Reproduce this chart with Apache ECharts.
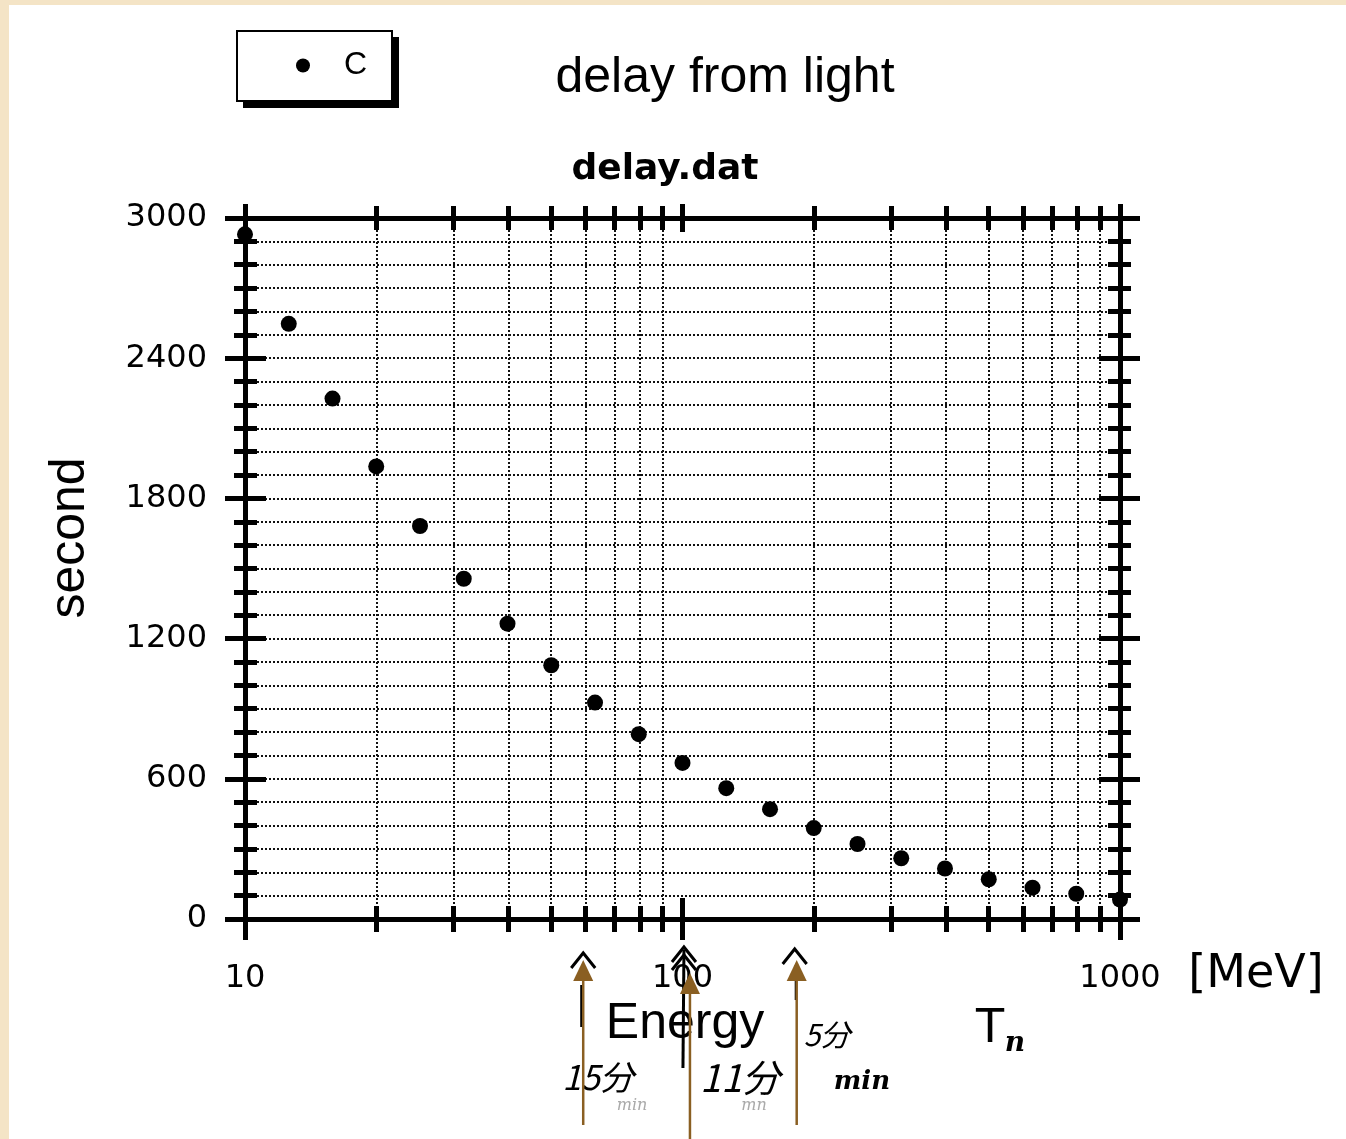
<!DOCTYPE html>
<html>
<head>
<meta charset="utf-8">
<script src="https://cdn.jsdelivr.net/npm/echarts@6/dist/echarts.min.js"></script>
<style>
html,body{margin:0;padding:0;background:#fff;}
#c{width:1346px;height:1139px;}
</style>
</head>
<body>
<div id="c"></div>
<script>
// ---- data ----
const seriesName = 'C';
const energies = [10, 12.59, 15.85, 19.95, 25.12, 31.62, 39.81, 50.12, 63.10, 79.43, 100, 125.9, 158.5, 199.5, 251.2, 316.2, 398.1, 501.2, 631.0, 794.3, 1000];
const delays   = [2930, 2547, 2227, 1937, 1682, 1456, 1264, 1086, 926, 791, 668, 560, 470, 389, 321, 260, 216, 170, 134, 108, 83];
const xLabelValues = [10, 100, 1000];
const xMinorTicks = [20, 30, 40, 50, 60, 70, 80, 90, 200, 300, 400, 500, 600, 700, 800, 900];
const xMajorTicks = [10, 100, 1000];
const yMin = 0, yMax = 3000, yLabelStep = 600, yMinorStep = 100;
const arrowEnergies = [59.3, 104, 182.4];

const chart = echarts.init(document.getElementById('c'), null, {renderer: 'canvas'});
const INK = '#000';
const labelFont = {fontFamily: 'DejaVu Sans', fontSize: 32, color: INK};
const dotted = {show: true, lineStyle: {type: 'dotted', color: '#111', width: 2}};
const noLine = {show: false, onZero: false};
const axLine = {show: true, onZero: false, lineStyle: {color: INK, width: 5}};

function xAx(pos, opts) {
  return Object.assign({
    type: 'log', logBase: 10, min: 10, max: 1000, position: pos, gridIndex: 0,
    axisLine: noLine, axisTick: {show: false}, axisLabel: {show: false},
    splitLine: {show: false}, minorTick: {show: false}, minorSplitLine: {show: false}
  }, opts);
}
function yAx(pos, opts) {
  return Object.assign({
    type: 'value', min: yMin, max: yMax, position: pos, gridIndex: 0,
    axisLine: noLine, axisTick: {show: false}, axisLabel: {show: false},
    splitLine: {show: false}
  }, opts);
}
const tick = (len, vals) => Object.assign({show: true, inside: true, length: len, lineStyle: {color: INK, width: 5}}, vals ? {customValues: vals} : {});

const option = {
  backgroundColor: '#fff',
  animation: false,
  grid: {left: 245, right: 226, top: 218, bottom: 220, containLabel: false, outerBoundsMode: 'none'},
  legend: {
    data: [seriesName], left: 296, top: 49, orient: 'horizontal',
    padding: 0, itemWidth: 72, itemHeight: 14, icon: 'circle',
    textStyle: {fontFamily: 'Liberation Sans', fontSize: 32, lineHeight: 33, color: INK}
  },
  xAxis: [
    xAx('bottom', {axisLine: axLine,
      axisLabel: {show: true, customValues: xLabelValues, margin: 44, ...labelFont,
        formatter: v => String(Math.round(v))}}),
    xAx('bottom', {offset: 13, axisTick: tick(26, xMinorTicks), splitLine: dotted}),
    xAx('bottom', {offset: 21, axisTick: tick(42, xMajorTicks)}),
    xAx('top', {axisLine: axLine}),
    xAx('top', {offset: 12, axisTick: tick(24, xMinorTicks)}),
    xAx('top', {offset: 14, axisTick: tick(28, xMajorTicks)})
  ],
  yAxis: [
    yAx('left', {interval: yLabelStep, axisLine: axLine,
      axisLabel: {show: true, margin: 38, padding: [10, 0, 0, 0], ...labelFont, formatter: v => String(v)}}),
    yAx('left', {offset: 11, interval: yMinorStep, axisTick: tick(23), splitLine: dotted}),
    yAx('left', {offset: 20, interval: yLabelStep, axisTick: tick(41)}),
    yAx('right', {interval: yLabelStep, axisLine: axLine}),
    yAx('right', {offset: 11, interval: yMinorStep, axisTick: tick(23)}),
    yAx('right', {offset: 20, interval: yLabelStep, axisTick: tick(41)})
  ],
  series: [{
    name: seriesName, type: 'scatter', xAxisIndex: 0, yAxisIndex: 0,
    symbol: 'circle', symbolSize: 16, itemStyle: {color: INK, opacity: 1}, z: 5,
    data: energies.map((e, i) => [e, delays[i]])
  }]
};
chart.setOption(option);

// ---- annotations (text + pen marks) ----
const BROWN = '#8a5f22';
const ax = arrowEnergies.map(e => chart.convertToPixel({xAxisIndex: 0}, e));
const arrowTip = [960, 973, 960];
const arrowEnd = [1125, 1139, 1125];
const g = [];
// beige scan border
g.push({type: 'rect', shape: {x: 0, y: 0, width: 9, height: 1139}, style: {fill: '#f4e4c6'}, z: 100});
g.push({type: 'rect', shape: {x: 0, y: 0, width: 1346, height: 5}, style: {fill: '#f4e4c6'}, z: 100});
// legend frame with hard drop shadow
g.push({type: 'rect', shape: {x: 243, y: 37, width: 156, height: 71}, style: {fill: INK}, z: -10});
g.push({type: 'rect', shape: {x: 237, y: 31, width: 155, height: 70}, style: {fill: '#fff', stroke: INK, lineWidth: 2}, z: -9});
// titles
g.push({type: 'text', style: {text: 'delay from light', x: 725, y: 78, font: '50px "Liberation Sans"', fill: INK, textAlign: 'center', textVerticalAlign: 'middle'}, z: 50});
g.push({type: 'text', style: {text: 'delay.dat', x: 665, y: 170, font: 'bold 36px "DejaVu Sans"', fill: INK, textAlign: 'center', textVerticalAlign: 'middle'}, z: 50});
// axis names
g.push({type: 'text', style: {text: 'Energy', x: 685, y: 1024, font: '50px "Liberation Sans"', fill: INK, textAlign: 'center', textVerticalAlign: 'middle'}, z: 50});
g.push({type: 'text', rotation: Math.PI / 2, x: 70, y: 538, style: {text: 'second', x: 0, y: 0, font: '50px "Liberation Sans"', fill: INK, textAlign: 'center', textVerticalAlign: 'middle'}, z: 50});
// handwritten notes
const hand = '"Noto Sans CJK JP"';
g.push({type: 'text', style: {text: '[MeV]', x: 1256, y: 975, font: '46px "DejaVu Sans"', fill: INK, textAlign: 'center', textVerticalAlign: 'middle'}, z: 50});
g.push({type: 'text', style: {text: 'T', x: 990, y: 1030, font: '46px "DejaVu Sans"', fill: INK, textAlign: 'center', textVerticalAlign: 'middle'}, z: 50});
g.push({type: 'text', style: {text: 'n', x: 1015, y: 1044, font: 'italic bold 28px "DejaVu Serif"', fill: INK, textAlign: 'center', textVerticalAlign: 'middle'}, z: 50});
g.push({type: 'text', style: {text: '15分', x: 598, y: 1077, font: 'italic 34px ' + hand, fill: INK, textAlign: 'center', textVerticalAlign: 'middle'}, z: 50});
g.push({type: 'text', style: {text: '11分', x: 740, y: 1078, font: 'italic 38px ' + hand, fill: INK, textAlign: 'center', textVerticalAlign: 'middle'}, z: 50});
g.push({type: 'text', style: {text: '5分', x: 827, y: 1035, font: 'italic 30px ' + hand, fill: INK, textAlign: 'center', textVerticalAlign: 'middle'}, z: 50});
g.push({type: 'text', style: {text: 'min', x: 862, y: 1082, font: 'italic bold 26px "DejaVu Serif"', fill: INK, textAlign: 'center', textVerticalAlign: 'middle'}, z: 50});
g.push({type: 'text', style: {text: 'min', x: 632, y: 1106, font: 'italic 16px "DejaVu Serif"', fill: '#aaa', textAlign: 'center', textVerticalAlign: 'middle'}, z: 50});
g.push({type: 'text', style: {text: 'mn', x: 754, y: 1106, font: 'italic 16px "DejaVu Serif"', fill: '#aaa', textAlign: 'center', textVerticalAlign: 'middle'}, z: 50});
// black pen chevrons
const pen = {stroke: INK, lineWidth: 3, fill: 'none'};
const chev = (cx, top) => ({type: 'polyline', shape: {points: [[cx - 12, top + 15], [cx, top], [cx + 12, top + 15]]}, style: pen, z: 60});
g.push(chev(ax[0], 953));
g.push(chev(ax[1] - 6, 947));
g.push(chev(ax[1] - 6, 955));
g.push(chev(ax[2] - 2, 949));
g.push({type: 'line', shape: {x1: ax[1] - 6, y1: 950, x2: ax[1] - 7, y2: 1068}, style: {stroke: INK, lineWidth: 3}, z: 60});
g.push({type: 'line', shape: {x1: ax[0] - 2, y1: 985, x2: ax[0] - 2, y2: 1027}, style: {stroke: INK, lineWidth: 2}, z: 60});
g.push({type: 'line', shape: {x1: ax[2] - 1, y1: 965, x2: ax[2] - 1, y2: 1000}, style: {stroke: INK, lineWidth: 2}, z: 60});
// brown arrows
ax.forEach((x, i) => {
  g.push({type: 'line', shape: {x1: x, y1: arrowTip[i] + 18, x2: x, y2: arrowEnd[i]}, style: {stroke: BROWN, lineWidth: 2.5}, z: 70});
  g.push({type: 'polygon', shape: {points: [[x, arrowTip[i]], [x - 10, arrowTip[i] + 21], [x + 10, arrowTip[i] + 21]]}, style: {fill: BROWN}, z: 70});
});
chart.setOption({graphic: {elements: g}});
</script>
</body>
</html>
